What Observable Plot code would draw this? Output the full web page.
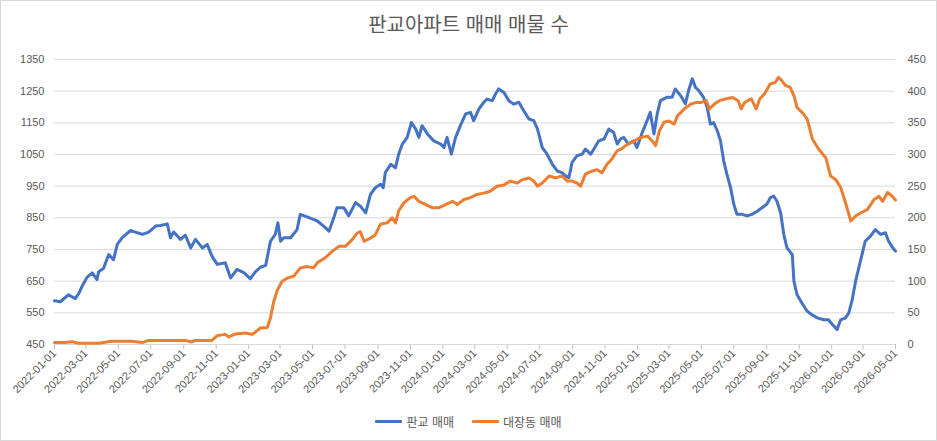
<!DOCTYPE html>
<html>
<head>
<meta charset="utf-8">
<script src="https://cdn.jsdelivr.net/npm/d3@7"></script>
<script src="https://cdn.jsdelivr.net/npm/@observablehq/plot@0.6"></script>
<style>
  body { margin: 0; background: #fff; }
  #wrap { width: 937px; height: 441px; box-sizing: border-box; border: 1px solid #d9d9d9;
          font-family: "Liberation Sans", "Noto Sans CJK KR", sans-serif; color: #595959; overflow: hidden; background:#fff; }
  #title { height: 44px; text-align: center; font-size: 20px; line-height: 20px; box-sizing: border-box; display:flex; align-items:center; justify-content:center; padding-top:4px; }
  #legend { height: 38px; display: flex; justify-content: center; align-items: center; font-size: 12px; gap: 18px; }
  .item { display: flex; align-items: center; }
  .swatch { width: 27px; height: 3px; margin-right: 4px; border-radius: 1px; }
  svg { display: block; }
</style>
</head>
<body>
<div id="wrap">
  <div id="title">판교아파트 매매 매물 수</div>
  <div id="chart"></div>
  <div id="legend"></div>
</div>
<script>
const seriesNames = ["판교 매매", "대장동 매매"];
const seriesColors = ["#4472C4", "#ED7D31"];

const pangyoDates = ["2022-01-01","2022-01-12","2022-01-27","2022-02-09","2022-02-16","2022-02-22","2022-03-03","2022-03-13","2022-03-22","2022-03-25","2022-04-03","2022-04-13","2022-04-22","2022-04-29","2022-05-08","2022-05-24","2022-06-02","2022-06-15","2022-06-27","2022-07-10","2022-07-19","2022-08-01","2022-08-07","2022-08-13","2022-08-26","2022-09-04","2022-09-14","2022-09-23","2022-10-06","2022-10-15","2022-10-24","2022-11-03","2022-11-18","2022-11-28","2022-12-10","2022-12-23","2023-01-04","2023-01-14","2023-01-23","2023-02-02","2023-02-11","2023-02-20","2023-02-25","2023-03-02","2023-03-08","2023-03-21","2023-04-02","2023-04-08","2023-04-22","2023-05-03","2023-05-10","2023-05-22","2023-06-01","2023-06-10","2023-06-16","2023-06-29","2023-07-08","2023-07-21","2023-07-30","2023-08-09","2023-08-18","2023-08-27","2023-09-06","2023-09-11","2023-09-15","2023-09-25","2023-10-04","2023-10-10","2023-10-17","2023-10-26","2023-11-03","2023-11-11","2023-11-17","2023-11-23","2023-12-03","2023-12-15","2023-12-28","2024-01-03","2024-01-09","2024-01-17","2024-01-25","2024-02-03","2024-02-13","2024-02-22","2024-02-28","2024-03-09","2024-03-18","2024-03-24","2024-04-03","2024-04-09","2024-04-15","2024-04-25","2024-05-04","2024-05-13","2024-05-23","2024-06-01","2024-06-11","2024-06-20","2024-06-27","2024-07-06","2024-07-15","2024-07-25","2024-08-03","2024-08-12","2024-08-19","2024-08-25","2024-08-31","2024-09-09","2024-09-19","2024-09-25","2024-10-05","2024-10-11","2024-10-20","2024-10-30","2024-11-08","2024-11-17","2024-11-24","2024-11-30","2024-12-06","2024-12-15","2024-12-25","2024-12-31","2025-01-10","2025-01-19","2025-01-25","2025-02-01","2025-02-07","2025-02-13","2025-02-26","2025-03-07","2025-03-13","2025-03-23","2025-04-01","2025-04-07","2025-04-14","2025-04-20","2025-04-26","2025-05-05","2025-05-12","2025-05-18","2025-05-24","2025-05-31","2025-06-06","2025-06-12","2025-06-18","2025-06-25","2025-07-01","2025-07-07","2025-07-17","2025-07-26","2025-08-04","2025-08-14","2025-08-23","2025-09-01","2025-09-08","2025-09-14","2025-09-20","2025-09-27","2025-10-03","2025-10-09","2025-10-19","2025-10-22","2025-10-28","2025-11-06","2025-11-16","2025-11-25","2025-12-05","2025-12-17","2025-12-26","2026-01-02","2026-01-11","2026-01-18","2026-01-27","2026-02-02","2026-02-08","2026-02-15","2026-02-21","2026-02-27","2026-03-05","2026-03-15","2026-03-24","2026-04-03","2026-04-12","2026-04-18","2026-04-26","2026-05-01"];
const pangyoValues = [588,585,607,595,612,634,662,676,655,680,690,734,718,766,787,810,805,798,805,824,826,831,787,805,782,795,755,782,755,766,729,703,708,660,687,677,658,680,694,700,776,798,834,776,787,787,813,861,852,845,840,824,808,850,882,882,856,898,887,866,924,945,956,945,993,1019,1008,1051,1083,1104,1151,1130,1104,1141,1115,1093,1083,1072,1104,1051,1104,1141,1178,1183,1157,1194,1215,1225,1220,1241,1257,1246,1220,1209,1215,1188,1162,1157,1130,1072,1051,1019,998,993,982,977,1025,1046,1051,1067,1051,1067,1093,1099,1130,1120,1083,1099,1104,1083,1093,1072,1120,1157,1183,1115,1178,1220,1231,1231,1257,1236,1210,1252,1289,1262,1252,1231,1199,1146,1151,1125,1093,1030,988,945,893,861,861,856,861,871,882,893,914,919,903,866,798,755,734,650,607,581,555,544,534,528,528,514,497,528,534,549,586,650,692,734,776,792,813,798,803,776,755,745];

const daejangDates = ["2022-01-01","2022-01-12","2022-01-20","2022-02-03","2022-02-15","2022-03-06","2022-03-25","2022-04-18","2022-05-26","2022-06-15","2022-06-27","2022-07-30","2022-09-04","2022-09-16","2022-09-23","2022-10-24","2022-11-03","2022-11-18","2022-11-24","2022-12-07","2022-12-26","2023-01-08","2023-01-14","2023-01-23","2023-02-05","2023-02-11","2023-02-17","2023-02-24","2023-03-05","2023-03-15","2023-03-27","2023-04-08","2023-04-21","2023-05-03","2023-05-10","2023-05-25","2023-06-07","2023-06-20","2023-07-02","2023-07-15","2023-07-24","2023-07-30","2023-08-06","2023-08-18","2023-08-27","2023-09-06","2023-09-18","2023-09-28","2023-10-04","2023-10-10","2023-10-20","2023-11-01","2023-11-08","2023-11-17","2023-11-30","2023-12-12","2023-12-25","2024-01-06","2024-01-19","2024-01-28","2024-02-10","2024-02-22","2024-03-05","2024-03-18","2024-03-30","2024-04-12","2024-04-25","2024-05-07","2024-05-20","2024-05-29","2024-06-11","2024-06-20","2024-06-27","2024-07-06","2024-07-19","2024-07-31","2024-08-12","2024-08-22","2024-08-31","2024-09-09","2024-09-16","2024-09-25","2024-10-08","2024-10-17","2024-10-26","2024-11-05","2024-11-14","2024-11-24","2024-11-30","2024-12-13","2024-12-25","2025-01-07","2025-01-20","2025-01-29","2025-02-04","2025-02-11","2025-02-20","2025-03-01","2025-03-11","2025-03-17","2025-03-30","2025-04-12","2025-04-21","2025-04-30","2025-05-10","2025-05-16","2025-05-26","2025-06-04","2025-06-17","2025-06-29","2025-07-09","2025-07-15","2025-07-21","2025-08-03","2025-08-12","2025-08-19","2025-08-28","2025-09-07","2025-09-17","2025-09-23","2025-09-29","2025-10-06","2025-10-15","2025-10-22","2025-10-28","2025-11-07","2025-11-16","2025-11-26","2025-12-08","2025-12-21","2025-12-30","2026-01-09","2026-01-18","2026-01-28","2026-02-06","2026-02-15","2026-02-25","2026-03-09","2026-03-22","2026-03-31","2026-04-07","2026-04-16","2026-04-25","2026-05-01"];
const daejangValues = [3,3,3,4.5,2,2,2,5,5,3,6.5,6.5,6.5,4,6.5,6.5,14,16,12,16.5,18,16,20,26,27,42,67,86,100,105,108,121,123,121,129,137,147,155,155,166,176,178,163,168,173,190,192,200,192,211,224,232,234,226,221,216,216,221,226,221,229,232,237,239,242,250,252,258,255,260,263,258,250,255,266,263,266,258,258,255,250,269,274,276,271,285,293,306,308,316,321,327,329,321,314,337,351,353,348,361,372,380,382,382,385,372,380,385,388,390,385,372,382,388,372,388,396,411,414,422,417,409,406,393,374,366,356,324,308,295,266,260,248,221,195,203,208,213,229,234,226,240,234,228];

const xTicks = ["2022-01-01","2022-03-01","2022-05-01","2022-07-01","2022-09-01","2022-11-01","2023-01-01","2023-03-01","2023-05-01","2023-07-01","2023-09-01","2023-11-01","2024-01-01","2024-03-01","2024-05-01","2024-07-01","2024-09-01","2024-11-01","2025-01-01","2025-03-01","2025-05-01","2025-07-01","2025-09-01","2025-11-01","2026-01-01","2026-03-01","2026-05-01"];
const leftTicks = [450,550,650,750,850,950,1050,1150,1250,1350];
const rightTicks = [0,50,100,150,200,250,300,350,400,450];

const parse = d3.utcParse("%Y-%m-%d");
const pangyo = pangyoDates.map((d, i) => ({date: parse(d), value: pangyoValues[i]}));
const daejang = daejangDates.map((d, i) => ({date: parse(d), value: daejangValues[i]}));
// secondary axis: right 0..450 mapped onto left 450..1350
const toLeft = v => 450 + v * 2;

const chart = Plot.plot({
  width: 935,
  height: 357,
  marginLeft: 53,
  marginRight: 41,
  marginTop: 14,
  marginBottom: 58,
  style: {fontFamily: '"Liberation Sans", "Noto Sans CJK KR", sans-serif', fontSize: "11px", color: "#595959", background: "white", overflow: "visible"},
  x: {type: "utc", domain: [parse("2022-01-01"), parse("2026-05-01")]},
  y: {domain: [450, 1350]},
  marks: [
    Plot.gridY(leftTicks, {stroke: "#d9d9d9", strokeOpacity: 1}),
    Plot.axisY(leftTicks, {anchor: "left", tickSize: 0, tickPadding: 10, label: null, fill: "#595959", tickFormat: t => String(t)}),
    Plot.axisY(rightTicks.map(toLeft), {anchor: "right", tickSize: 0, tickPadding: 12, label: null, fill: "#595959", tickFormat: t => String((t - 450) / 2)}),
    Plot.axisX(xTicks.map(parse), {tickRotate: -45, tickSize: 5, tickPadding: 2, stroke: "#bfbfbf", fill: "#595959", label: null, tickFormat: d3.utcFormat("%Y-%m-%d")}),
    Plot.ruleY([450], {stroke: "#d9d9d9"}),
    Plot.lineY(pangyo, {x: "date", y: "value", stroke: seriesColors[0], strokeWidth: 3, strokeLinejoin: "round"}),
    Plot.lineY(daejang, {x: "date", y: d => toLeft(d.value), stroke: seriesColors[1], strokeWidth: 3, strokeLinejoin: "round"})
  ]
});
document.getElementById("chart").appendChild(chart);

const legend = document.getElementById("legend");
seriesNames.forEach((name, i) => {
  const item = document.createElement("div");
  item.className = "item";
  const sw = document.createElement("div");
  sw.className = "swatch";
  sw.style.background = seriesColors[i];
  const tx = document.createElement("span");
  tx.textContent = name;
  item.appendChild(sw);
  item.appendChild(tx);
  legend.appendChild(item);
});
</script>
</body>
</html>
